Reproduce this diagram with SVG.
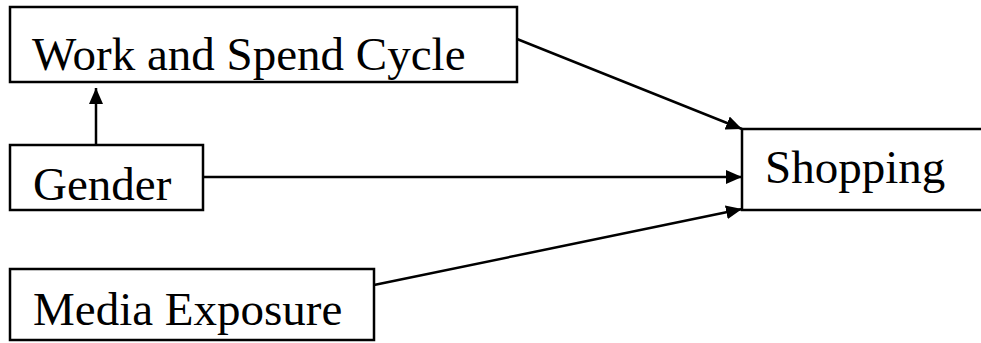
<svg xmlns="http://www.w3.org/2000/svg" width="981" height="343" viewBox="0 0 981 343">
<style>
.box{fill:#fff;stroke:#000;stroke-width:2.5}
.lbl{font-family:"Liberation Serif","Times New Roman",serif;font-size:47px;fill:#000}
.con{stroke:#000;stroke-width:2.5;fill:none}
</style>
<defs>
<marker id="ah" markerWidth="16" markerHeight="14" refX="16" refY="7" orient="auto" markerUnits="userSpaceOnUse">
<path d="M0,0 L16,7 L0,14 Z" fill="#000"/>
</marker>
</defs>
<rect width="981" height="343" fill="#fff"/>
<g id="connectors">
<line class="con" x1="96" y1="145" x2="96" y2="88" marker-end="url(#ah)"/>
<line class="con" x1="517" y1="39" x2="742" y2="129" marker-end="url(#ah)"/>
<line class="con" x1="203" y1="177" x2="742" y2="177" marker-end="url(#ah)"/>
<line class="con" x1="374" y1="285" x2="742" y2="209" marker-end="url(#ah)"/>
</g>
<g id="work">
<rect class="box" x="10" y="7" width="507" height="75"/>
<text class="lbl" x="32" y="70">Work and Spend Cycle</text>
</g>
<g id="gender">
<rect class="box" x="10" y="145" width="193" height="65"/>
<text class="lbl" x="33" y="200">Gender</text>
</g>
<g id="media">
<rect class="box" x="10" y="269" width="364" height="71"/>
<text class="lbl" x="33" y="325">Media Exposure</text>
</g>
<g id="shopping">
<path class="box" d="M983,129 L742,129 L742,210 L983,210"/>
<text class="lbl" x="765" y="183">Shopping</text>
</g>
</svg>
